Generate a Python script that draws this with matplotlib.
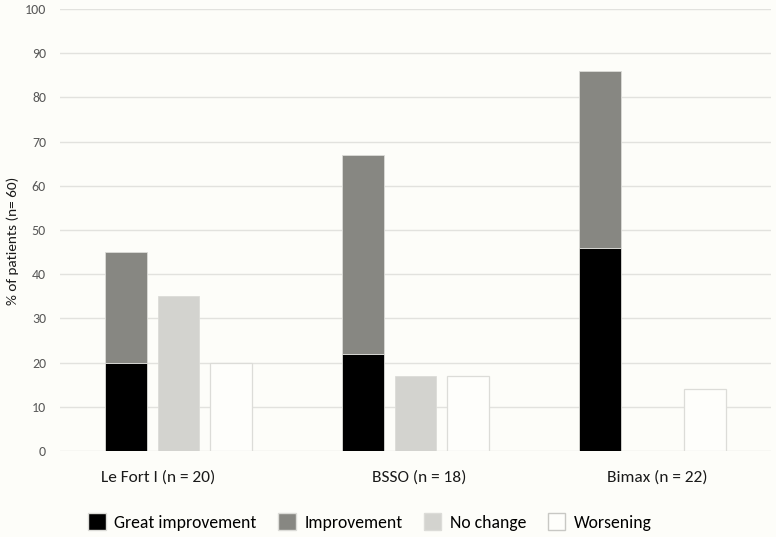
import numpy as np
import matplotlib.pyplot as plt
from matplotlib.patches import Patch

groups = ["Le Fort I (n = 20)", "BSSO (n = 18)", "Bimax (n = 22)"]
great = [20, 22, 46]
improvement = [25, 45, 40]
no_change = [35, 17, 0]
worsening = [20, 17, 14]

c_great = "#000000"
c_impr = "#878782"
c_nochg = "#d3d3cf"
c_worse = "#fefefb"
bg = "#fdfdf9"
edge = "#dcdcd8"

plt.rcParams['font.family'] = ['Carlito', 'DejaVu Sans']

W, H = 776, 537
fig = plt.figure(figsize=(W / 100, H / 100), dpi=100, facecolor=bg)
ax = fig.add_axes([60 / W, 86 / H, 711 / W, 442 / H], facecolor=bg)

x = np.arange(len(groups))
off = 0.22
w = 0.177

ax.bar(x - off, great, w, color=c_great, edgecolor=edge, linewidth=0.6, zorder=3)
ax.bar(x - off, improvement, w, bottom=great, color=c_impr, edgecolor=edge,
       linewidth=0.6, zorder=3)
nc = [v if v > 0 else np.nan for v in no_change]
ax.bar(x, nc, w, color=c_nochg, edgecolor=edge, linewidth=0.6, zorder=3)
ax.bar(x + off, worsening, w, color=c_worse, edgecolor=edge, linewidth=0.9, zorder=3)

ax.set_xlim(-0.5, 2.5)
ax.set_ylim(0, 100)
ax.set_yticks(range(0, 101, 10))
ax.grid(axis='y', color="#e2e2de", linewidth=1, zorder=0)
for s in ax.spines.values():
    s.set_visible(False)
ax.tick_params(axis='y', length=0, pad=10, labelsize=10, labelcolor="#595959")
ax.set_xticks(x)
ax.set_xticklabels([])
ax.tick_params(axis='x', length=0)

# category labels (the first one sits a little left of its group in the original)
label_px = [158, 419, 657]
for px, g in zip(label_px, groups):
    fig.text(px / W, 1 - 478 / H, g, ha='center', va='center', fontsize=12.5,
             color="#1a1a1a")

ax.set_ylabel("% of patients (n= 60)", fontsize=11, color="#1a1a1a")
ax.yaxis.set_label_coords(-0.057, 0.475)

handles = [Patch(facecolor=c_great, edgecolor=edge),
           Patch(facecolor=c_impr, edgecolor=edge),
           Patch(facecolor=c_nochg, edgecolor=edge),
           Patch(facecolor=c_worse, edgecolor="#c8c8c4")]
labels = ["Great improvement", "Improvement", "No change", "Worsening"]
fig.legend(handles, labels, loc='center', bbox_to_anchor=(370 / W, 1 - 522 / H),
           ncol=4, frameon=False, fontsize=12.7, handlelength=1.0, handleheight=1.1,
           columnspacing=1.2, handletextpad=0.5, borderaxespad=0, borderpad=0)

fig.savefig("out.png", dpi=100, facecolor=bg)
